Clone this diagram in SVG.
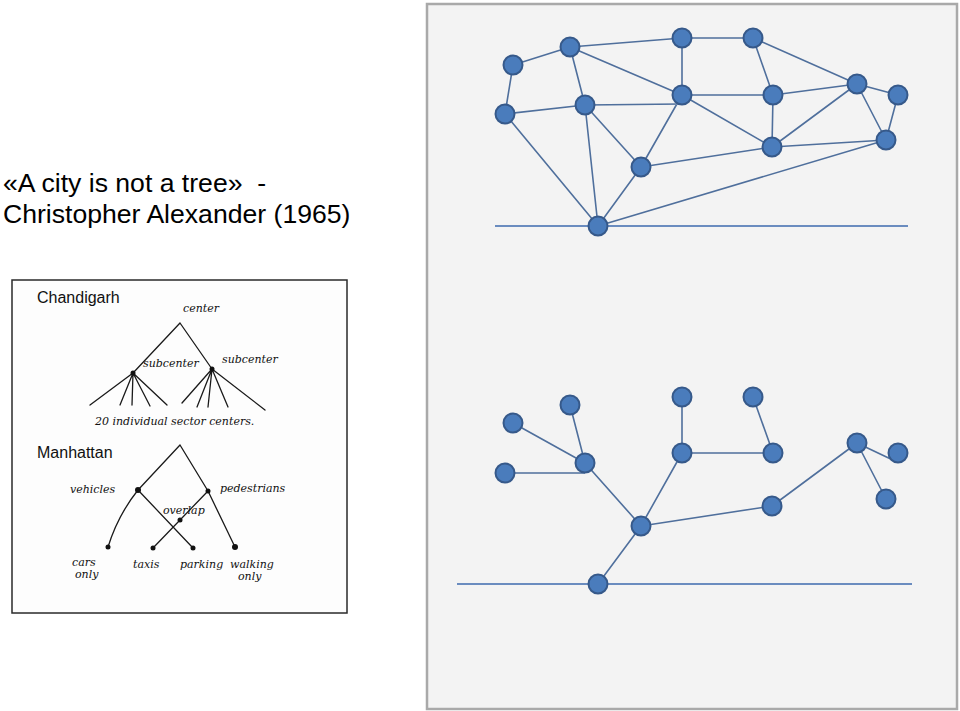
<svg xmlns="http://www.w3.org/2000/svg" width="960" height="711" viewBox="0 0 960 711">
<style>
.title{font-family:"Liberation Sans",Arial,sans-serif;font-size:26.6px;fill:#000;white-space:pre}
.lbl{font-family:"Liberation Sans",Arial,sans-serif;font-size:16px;fill:#111}
.hw{font-family:"DejaVu Serif","Liberation Serif",serif;font-style:italic;font-size:11px;fill:#111}
.sk{stroke:#1a1a1a;stroke-width:1.3;fill:none;stroke-linecap:round}
.dot{fill:#111}
.edge{stroke:#4f6f9c;stroke-width:1.6;fill:none}
.ground{stroke:#6a8cbf;stroke-width:1.8}
.node{fill:#4a7cbc;stroke:#36598a;stroke-width:2}
</style>

<g id="title">
<text class="title" x="3" y="192" xml:space="preserve">«A city is not a tree»  -</text>
<text class="title" x="3" y="223">Christopher Alexander (1965)</text>
</g>

<g id="sketch">
<rect x="12" y="280" width="335" height="333" fill="#fdfdfd" stroke="#2a2a2a" stroke-width="1.5"/>
<text class="lbl" x="37" y="303">Chandigarh</text>
<text class="hw" x="183" y="312">center</text>
<path class="sk" d="M180 323 L133 373 M180 323 L212 369"/>
<path class="sk" d="M133 373 L90 405 M133 373 L120 405 M133 373 L132 405 M133 373 L150 406 M133 373 L167 405"/>
<path class="sk" d="M212 369 L182 403 M212 369 L197 407 M212 369 L208 407 M212 369 L228 407 M212 369 L265 410"/>
<circle class="dot" cx="133" cy="373" r="2.5"/>
<circle class="dot" cx="212" cy="369" r="2.5"/>
<text class="hw" x="143" y="367">subcenter</text>
<text class="hw" x="222" y="363">subcenter</text>
<text class="hw" x="95" y="425">20 individual sector centers.</text>

<text class="lbl" x="37" y="458">Manhattan</text>
<path class="sk" d="M180 445 L138 490 M180 445 L208 491"/>
<path class="sk" d="M138 490 Q118 515 108 547"/>
<path class="sk" d="M138 490 L193 548"/>
<path class="sk" d="M208 491 L153 548"/>
<path class="sk" d="M208 491 L235 547"/>
<circle class="dot" cx="138" cy="490" r="3"/>
<circle class="dot" cx="208" cy="491" r="2.5"/>
<circle class="dot" cx="180" cy="520" r="2.5"/>
<circle class="dot" cx="108" cy="547" r="2.5"/>
<circle class="dot" cx="153" cy="548" r="2.5"/>
<circle class="dot" cx="193" cy="548" r="2.5"/>
<circle class="dot" cx="235" cy="547" r="3"/>
<text class="hw" x="70" y="493">vehicles</text>
<text class="hw" x="220" y="492">pedestrians</text>
<text class="hw" x="163" y="514">overlap</text>
<text class="hw" x="72" y="566">cars</text>
<text class="hw" x="75" y="578">only</text>
<text class="hw" x="133" y="568">taxis</text>
<text class="hw" x="180" y="568">parking</text>
<text class="hw" x="230" y="568">walking</text>
<text class="hw" x="238" y="580">only</text>
</g>

<rect id="panel" x="427" y="4" width="530" height="705" fill="#f3f3f3" stroke="#a9a9a9" stroke-width="2.5"/>

<g id="connectors">
<line class="ground" x1="495" y1="226" x2="908" y2="226"/>
<line class="ground" x1="457" y1="584" x2="912" y2="584"/>
<path class="edge" d="M513 65 L570 47 M513 65 L505 114 M570 47 L682 38 M570 47 L585 105 M570 47 L682 95 M682 38 L753 38 M682 38 L682 95 M505 114 L585 105 M505 114 L598 226 M585 105 L681 104 M682 95 L773 95 M682 95 L772 147 M682 95 L641 167 M585 105 L641 167 M585 105 L598 226 M641 167 L598 226 M641 167 L772 147 M598 226 L886 140 M753 38 L773 95 M753 38 L857 84 M773 95 L857 84 M773 95 L772 147 M772 147 L857 84 M772 147 L886 140 M857 84 L898 95 M857 84 L886 140 M898 95 L886 140"/>
<path class="edge" d="M513 423 L585 463 M570 405 L585 463 M505 473 L585 473 M585 463 L641 526 M682 397 L682 453 M682 453 L773 453 M753 397 L773 453 M682 453 L641 526 M641 526 L598 584 M641 526 L772 506 M772 506 L857 443 M857 443 L897 462 M857 443 L886 499"/>
</g>

<g id="top-A"><circle class="node" cx="513" cy="65" r="9.5"/></g>
<g id="top-B"><circle class="node" cx="570" cy="47" r="9.5"/></g>
<g id="top-C"><circle class="node" cx="682" cy="38" r="9.5"/></g>
<g id="top-D"><circle class="node" cx="505" cy="114" r="9.5"/></g>
<g id="top-E"><circle class="node" cx="585" cy="105" r="9.5"/></g>
<g id="top-F"><circle class="node" cx="682" cy="95" r="9.5"/></g>
<g id="top-G"><circle class="node" cx="641" cy="167" r="9.5"/></g>
<g id="top-H"><circle class="node" cx="598" cy="226" r="9.5"/></g>
<g id="top-I"><circle class="node" cx="753" cy="38" r="9.5"/></g>
<g id="top-J"><circle class="node" cx="773" cy="95" r="9.5"/></g>
<g id="top-K"><circle class="node" cx="857" cy="84" r="9.5"/></g>
<g id="top-L"><circle class="node" cx="898" cy="95" r="9.5"/></g>
<g id="top-M"><circle class="node" cx="772" cy="147" r="9.5"/></g>
<g id="top-N"><circle class="node" cx="886" cy="140" r="9.5"/></g>

<g id="tree-a"><circle class="node" cx="513" cy="423" r="9.5"/></g>
<g id="tree-b"><circle class="node" cx="570" cy="405" r="9.5"/></g>
<g id="tree-c"><circle class="node" cx="505" cy="473" r="9.5"/></g>
<g id="tree-d"><circle class="node" cx="585" cy="463" r="9.5"/></g>
<g id="tree-e"><circle class="node" cx="682" cy="397" r="9.5"/></g>
<g id="tree-f"><circle class="node" cx="682" cy="453" r="9.5"/></g>
<g id="tree-g"><circle class="node" cx="641" cy="526" r="9.5"/></g>
<g id="tree-h"><circle class="node" cx="598" cy="584" r="9.5"/></g>
<g id="tree-i"><circle class="node" cx="753" cy="397" r="9.5"/></g>
<g id="tree-j"><circle class="node" cx="773" cy="453" r="9.5"/></g>
<g id="tree-k"><circle class="node" cx="857" cy="443" r="9.5"/></g>
<g id="tree-l"><circle class="node" cx="898" cy="453" r="9.5"/></g>
<g id="tree-m"><circle class="node" cx="772" cy="506" r="9.5"/></g>
<g id="tree-n"><circle class="node" cx="886" cy="499" r="9.5"/></g>
</svg>
